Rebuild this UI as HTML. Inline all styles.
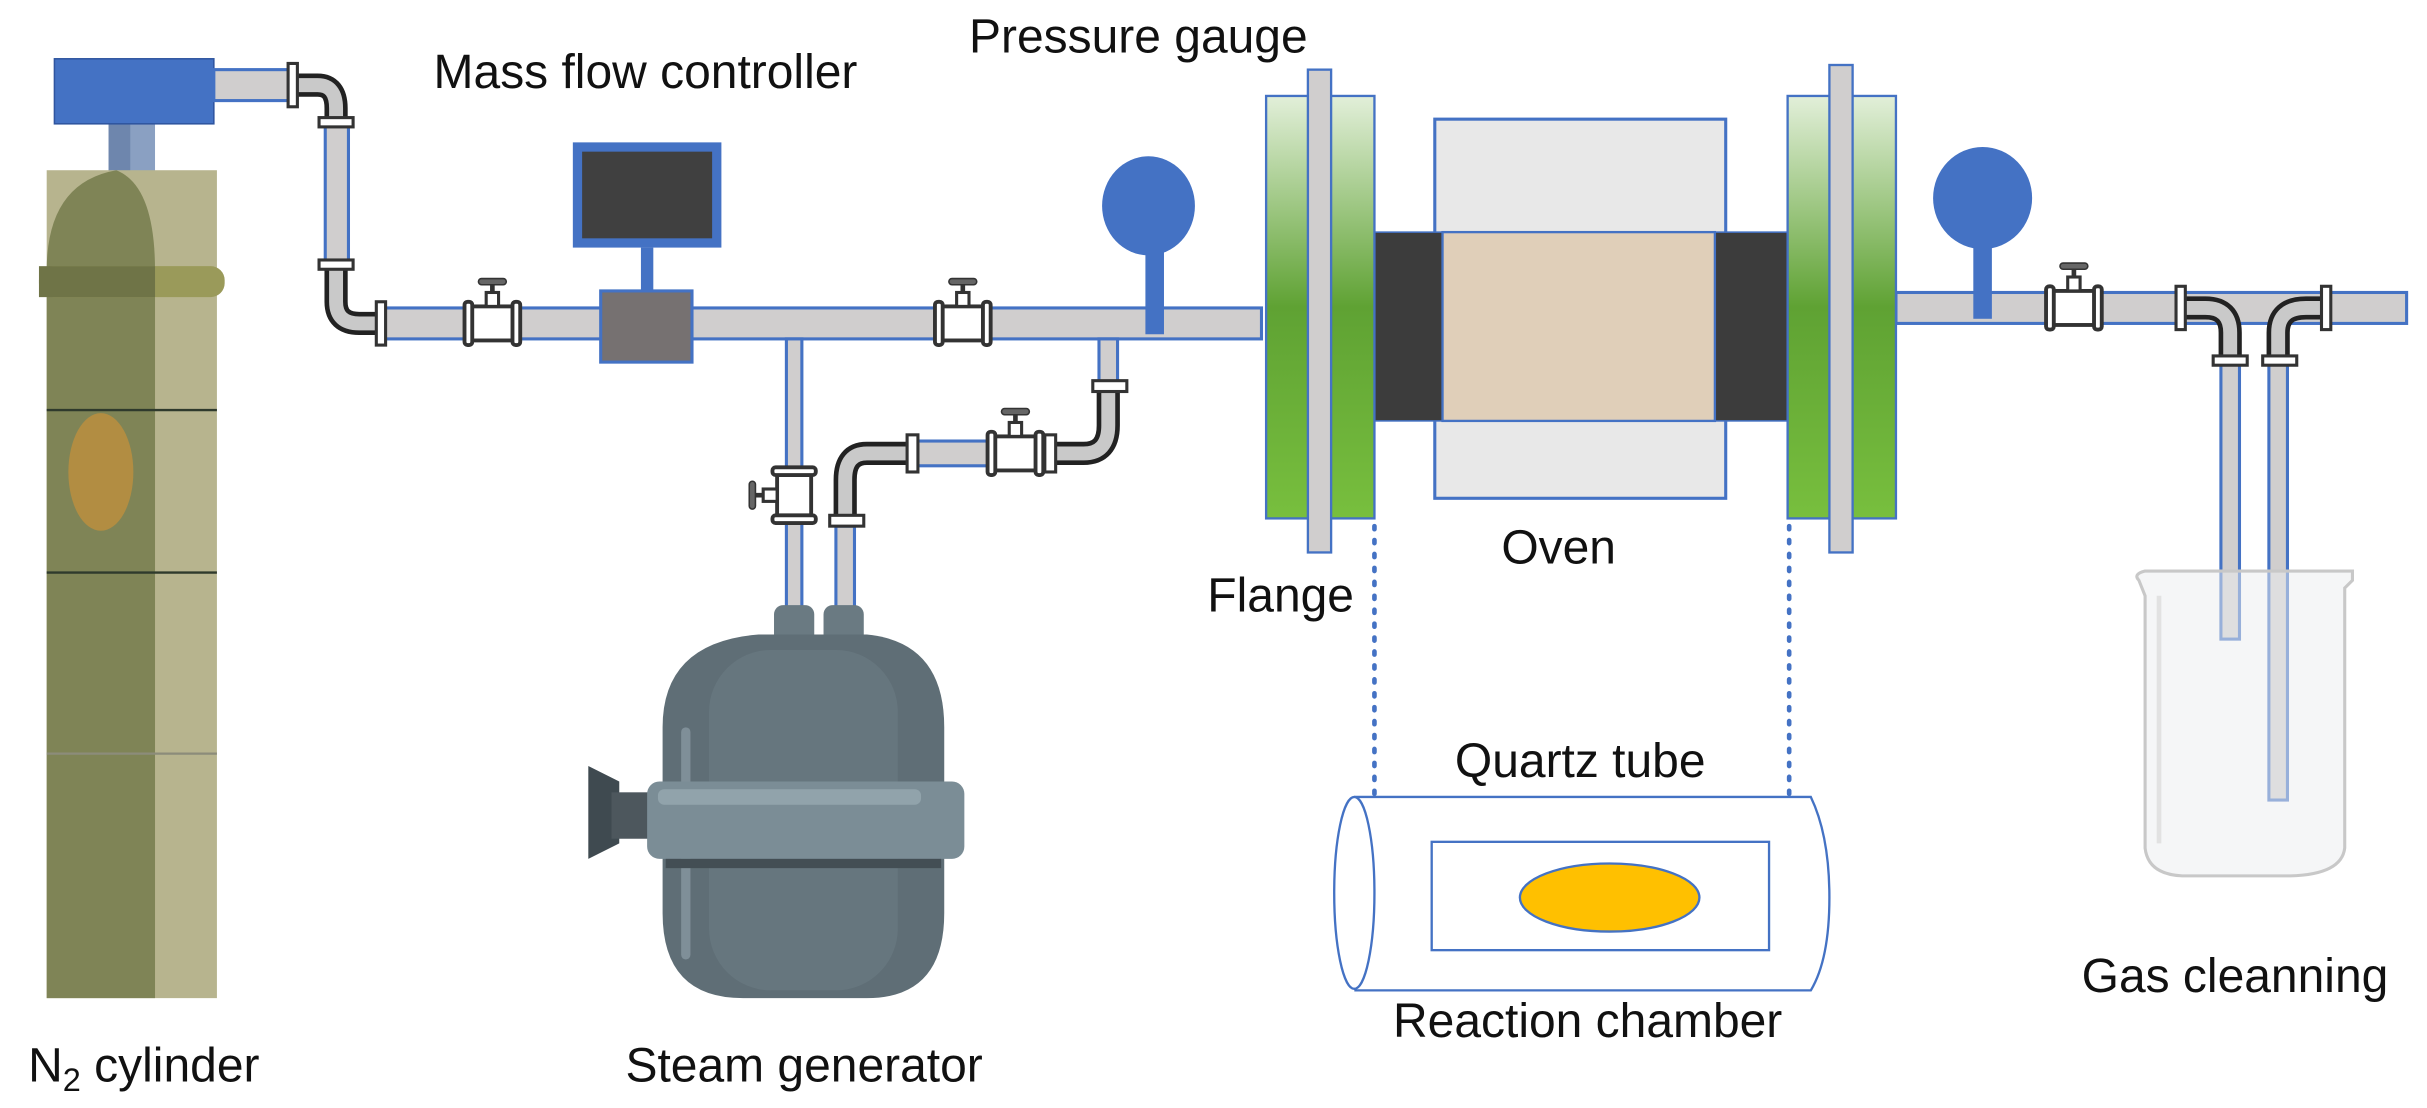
<!DOCTYPE html>
<html><head><meta charset="utf-8"><style>
html,body{margin:0;padding:0;background:#fff;}
svg{display:block;}
text{font-family:"Liberation Sans",sans-serif;fill:#111;font-size:31px;}
</style></head><body>
<svg width="2427" height="1108" viewBox="0 0 1568 716" xmlns="http://www.w3.org/2000/svg">
<defs>
<linearGradient id="g" x1="0" y1="0" x2="0" y2="1">
<stop offset="0" stop-color="#e2efd9"/><stop offset="0.5" stop-color="#5fa233"/><stop offset="1" stop-color="#78bf3e"/>
</linearGradient>
<g id="valveH">
<rect x="-14" y="-11" width="28" height="22" fill="#fff" stroke="#333" stroke-width="2.5"/>
<rect x="-18" y="-14" width="5" height="28" rx="2" fill="#fff" stroke="#333" stroke-width="2.5"/>
<rect x="13" y="-14" width="5" height="28" rx="2" fill="#fff" stroke="#333" stroke-width="2.5"/>
<rect x="-4" y="-20" width="8" height="9" fill="#fff" stroke="#333" stroke-width="2"/>
<rect x="-1.5" y="-26" width="3" height="6" fill="#333"/>
<rect x="-9" y="-29" width="18" height="4" rx="2" fill="#666" stroke="#333"/>
</g>
</defs>

<rect x="70" y="80" width="30" height="32" fill="#8aa0c2"/>
<rect x="70" y="80" width="14" height="32" fill="#6e86ad"/>
<rect x="30" y="110" width="110" height="535" fill="#b7b48e"/>
<path d="M30 645 V175 Q30 118 75 110 Q100 120 100 175 V645 Z" fill="#7f8456"/>
<rect x="25" y="172" width="120" height="20" rx="9" fill="#9a9a5a"/>
<rect x="25" y="172" width="75" height="20" fill="#6f7447"/>
<line x1="30" y1="265" x2="140" y2="265" stroke="#2f3a2c" stroke-width="1.5"/>
<line x1="30" y1="370" x2="140" y2="370" stroke="#2f3a2c" stroke-width="1.5"/>
<line x1="30" y1="487" x2="140" y2="487" stroke="#8c8c7a" stroke-width="1.5"/>
<ellipse cx="65" cy="305" rx="21" ry="38" fill="#b28d42"/>
<rect x="35" y="38" width="103" height="42" fill="#4472c4" stroke="#2f55a0"/>

<g fill="#d0cece" stroke="#4472c4" stroke-width="2">
<rect x="138" y="45" width="52" height="20"/>
<rect x="210" y="80" width="15" height="90"/>
<rect x="245" y="199" width="570" height="20"/>
<rect x="508" y="219" width="10" height="176"/>
<rect x="710" y="219" width="12" height="30"/>
<rect x="590" y="285" width="50" height="16"/>
<rect x="540" y="340" width="12" height="55"/>
<rect x="1225" y="189" width="330" height="20"/>
<rect x="1435" y="235" width="12" height="178"/>
<rect x="1466" y="235" width="12" height="282"/>
</g>
<g fill="none" stroke="#222" stroke-width="15" stroke-linecap="butt">
<path d="M190 55 H205 Q217 55 217 70 V80"/>
<path d="M217 170 V195 Q217 209 232 209 H245"/>
<path d="M716 252 V275 Q716 293 700 293 H680"/>
<path d="M588 293 H560 Q546 293 546 310 V335"/>
<path d="M1410 199 H1425 Q1441 199 1441 215 V232"/>
<path d="M1505 199 H1490 Q1472 199 1472 215 V232"/>
</g>
<g fill="none" stroke="#c9c9c9" stroke-width="9">
<path d="M190 55 H205 Q217 55 217 70 V80"/>
<path d="M217 170 V195 Q217 209 232 209 H245"/>
<path d="M716 252 V275 Q716 293 700 293 H680"/>
<path d="M588 293 H560 Q546 293 546 310 V335"/>
<path d="M1410 199 H1425 Q1441 199 1441 215 V232"/>
<path d="M1505 199 H1490 Q1472 199 1472 215 V232"/>
</g>
<g fill="#fff" stroke="#333" stroke-width="2">
<rect x="186" y="41" width="6" height="28"/><rect x="206" y="76" width="22" height="6"/>
<rect x="206" y="168" width="22" height="6"/><rect x="243" y="195" width="6" height="28"/>
<rect x="706" y="246" width="22" height="7"/><rect x="675" y="281" width="7" height="24"/>
<rect x="586" y="281" width="7" height="24"/><rect x="536" y="333" width="22" height="7"/>
<rect x="1406" y="185" width="6" height="28"/><rect x="1430" y="230" width="22" height="6"/>
<rect x="1500" y="185" width="6" height="28"/><rect x="1462" y="230" width="22" height="6"/>
</g>

<use href="#valveH" x="318" y="209"/>
<use href="#valveH" x="622" y="209"/>
<use href="#valveH" x="656" y="293"/>
<use href="#valveH" x="1340" y="199"/>
<g transform="translate(513 320) rotate(-90)"><use href="#valveH"/></g>

<rect x="414" y="160" width="8" height="30" fill="#4472c4"/>
<rect x="370" y="92" width="96" height="68" fill="#4472c4"/>
<rect x="376" y="98" width="84" height="56" fill="#404040"/>
<rect x="388" y="188" width="59" height="46" fill="#767171" stroke="#4472c4" stroke-width="2"/>

<rect x="740" y="150" width="12" height="66" fill="#4472c4"/>
<ellipse cx="742" cy="133" rx="30" ry="32" fill="#4472c4"/>
<rect x="1275" y="145" width="12" height="61" fill="#4472c4"/>
<ellipse cx="1281" cy="128" rx="32" ry="33" fill="#4472c4"/>

<rect x="927" y="77" width="188" height="245" fill="#e8e8e8" stroke="#4472c4" stroke-width="2"/>
<rect x="888" y="150" width="44" height="122" fill="#3c3c3c" stroke="#4472c4"/>
<rect x="1108" y="150" width="47" height="122" fill="#3c3c3c" stroke="#4472c4"/>
<rect x="932" y="150" width="176" height="122" fill="#e0cfb9" stroke="#4472c4" stroke-width="1.5"/>
<rect x="818" y="62" width="70" height="273" fill="url(#g)" stroke="#4472c4" stroke-width="1.5"/>
<rect x="845" y="45" width="15" height="312" fill="#d0cece" stroke="#4472c4" stroke-width="1.5"/>
<rect x="1155" y="62" width="70" height="273" fill="url(#g)" stroke="#4472c4" stroke-width="1.5"/>
<rect x="1182" y="42" width="15" height="315" fill="#d0cece" stroke="#4472c4" stroke-width="1.5"/>

<g stroke="#4472c4" stroke-width="3" stroke-dasharray="2 7" stroke-linecap="round">
<line x1="888" y1="340" x2="888" y2="515"/>
<line x1="1156" y1="340" x2="1156" y2="515"/>
</g>

<path d="M875 515 H1170 Q1182 540 1182 580 Q1182 620 1170 640 H875" fill="#fff" stroke="#4472c4" stroke-width="1.5"/>
<ellipse cx="875" cy="577" rx="13" ry="62" fill="#fff" stroke="#4472c4" stroke-width="1.5"/>
<rect x="925" y="544" width="218" height="70" fill="#fff" stroke="#4472c4" stroke-width="1.5"/>
<ellipse cx="1040" cy="580" rx="58" ry="22" fill="#ffc000" stroke="#4472c4" stroke-width="1.5"/>

<rect x="500" y="391" width="26" height="30" rx="6" fill="#6a7a82"/>
<rect x="532" y="391" width="26" height="30" rx="6" fill="#6a7a82"/>
<path d="M428 470 Q428 415 490 410 H560 Q610 415 610 470 V590 Q610 645 560 645 H480 Q428 645 428 590 Z" fill="#5f6e76"/>
<rect x="458" y="420" width="122" height="220" rx="40" fill="#66767e"/>
<rect x="440" y="470" width="6" height="150" rx="3" fill="#7f8f98"/>
<path d="M380 495 L400 505 V545 L380 555 Z" fill="#3f4a50"/>
<rect x="395" y="512" width="30" height="30" fill="#4d575d"/>
<rect x="418" y="505" width="205" height="50" rx="8" fill="#7b8d96"/>
<rect x="425" y="510" width="170" height="10" rx="4" fill="#91a3ab"/>
<rect x="430" y="555" width="178" height="6" fill="#434e54"/>

<path d="M1382 375 Q1378 371 1386 369 H1520 V375 L1515 380 V548 Q1513 565 1480 566 H1410 Q1388 565 1386 548 V385 Z" fill="rgba(235,238,240,0.5)" stroke="#c8c8c8" stroke-width="2"/>
<path d="M1395 385 V545" stroke="#e2e2e2" stroke-width="3"/>

<text x="626" y="34">Pressure gauge</text>
<text x="280" y="57">Mass flow controller</text>
<text x="780" y="395">Flange</text>
<text x="970" y="364">Oven</text>
<text x="940" y="502">Quartz tube</text>
<text x="900" y="670">Reaction chamber</text>
<text x="1345" y="641">Gas cleanning</text>
<text x="18" y="699">N<tspan font-size="21" dy="6">2</tspan><tspan dy="-6"> cylinder</tspan></text>
<text x="404" y="699">Steam generator</text>
</svg>
</body></html>
